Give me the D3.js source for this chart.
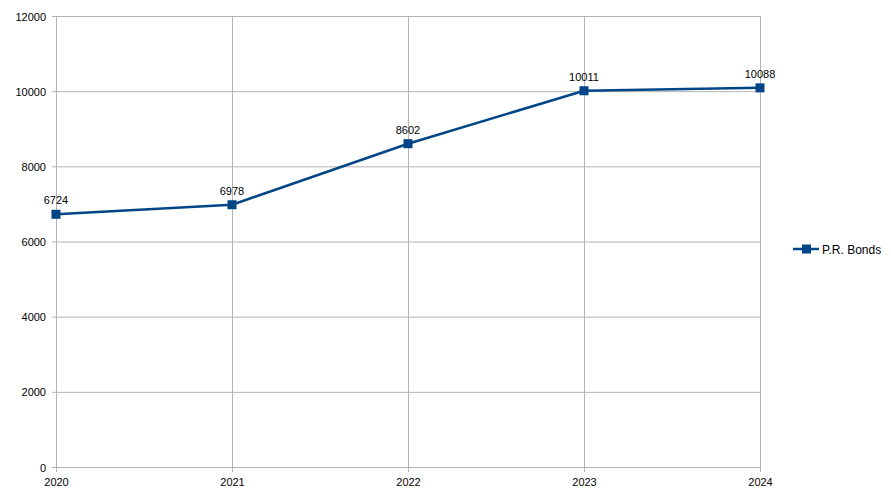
<!DOCTYPE html>
<html><head><meta charset="utf-8">
<script src="https://cdn.jsdelivr.net/npm/d3@7"></script>
<style>body{margin:0;background:#fff;} svg{display:block;font-family:"Liberation Sans",Arial,sans-serif;}</style>
</head><body>
<svg id="c" width="891" height="500"></svg>
<script>
const categories = ["2020","2021","2022","2023","2024"];
const seriesName = "P.R. Bonds";
const values = [6724, 6978, 8602, 10011, 10088];
const yTicks = [0,2000,4000,6000,8000,10000,12000];

const svg = d3.select("#c");
const L=56,R=760,T=16,B=467;
const x = d3.scalePoint().domain(categories).range([L,R]);
const y = d3.scaleLinear().domain([0,12000]).range([B,T]);
const grid="#b3b3b3";

svg.append("g").selectAll("line").data(yTicks).join("line")
  .attr("x1",L-4).attr("x2",R).attr("y1",d=>y(d)+0.5).attr("y2",d=>y(d)+0.5)
  .attr("stroke",grid).attr("stroke-width",1);
svg.append("g").selectAll("line").data(categories).join("line")
  .attr("x1",d=>x(d)+0.5).attr("x2",d=>x(d)+0.5).attr("y1",T).attr("y2",B+5)
  .attr("stroke",grid).attr("stroke-width",1);

const yAxis = d3.axisLeft(y).tickValues(yTicks).tickSize(0).tickPadding(10).tickFormat(d3.format("d"));
const ga = svg.append("g").attr("transform",`translate(${L},0.5)`).call(yAxis);
ga.select(".domain").remove();
ga.selectAll("text").attr("font-size",11).attr("fill","#000").attr("font-family","Liberation Sans, Arial, sans-serif");

const xAxis = d3.axisBottom(x).tickSize(0).tickPadding(11);
const gx = svg.append("g").attr("transform",`translate(0,${B})`).call(xAxis);
gx.select(".domain").remove();
gx.selectAll("text").attr("font-size",11).attr("fill","#000").attr("font-family","Liberation Sans, Arial, sans-serif");

const col="#004586";
const line = d3.line().x((d,i)=>x(categories[i])).y(d=>y(d));
svg.append("path").datum(values).attr("d",line).attr("fill","none")
  .attr("stroke",col).attr("stroke-width",2.5).attr("stroke-linejoin","round");
svg.append("g").selectAll("rect").data(values).join("rect")
  .attr("x",(d,i)=>x(categories[i])-4.5).attr("y",d=>y(d)-4.5)
  .attr("width",9).attr("height",9).attr("fill",col);
svg.append("g").selectAll("text").data(values).join("text")
  .attr("x",(d,i)=>x(categories[i])).attr("y",d=>y(d)-10)
  .attr("text-anchor","middle").attr("font-size",11).attr("fill","#000")
  .text(d=>d);

const lg = svg.append("g").attr("transform","translate(793,249)");
lg.append("line").attr("x1",0).attr("x2",26).attr("y1",0).attr("y2",0).attr("stroke",col).attr("stroke-width",2.5);
lg.append("rect").attr("x",9).attr("y",-4.5).attr("width",9).attr("height",9).attr("fill",col);
lg.append("text").attr("x",29).attr("y",4.5).attr("font-size",12).attr("fill","#000").text(seriesName);
</script>
</body></html>
